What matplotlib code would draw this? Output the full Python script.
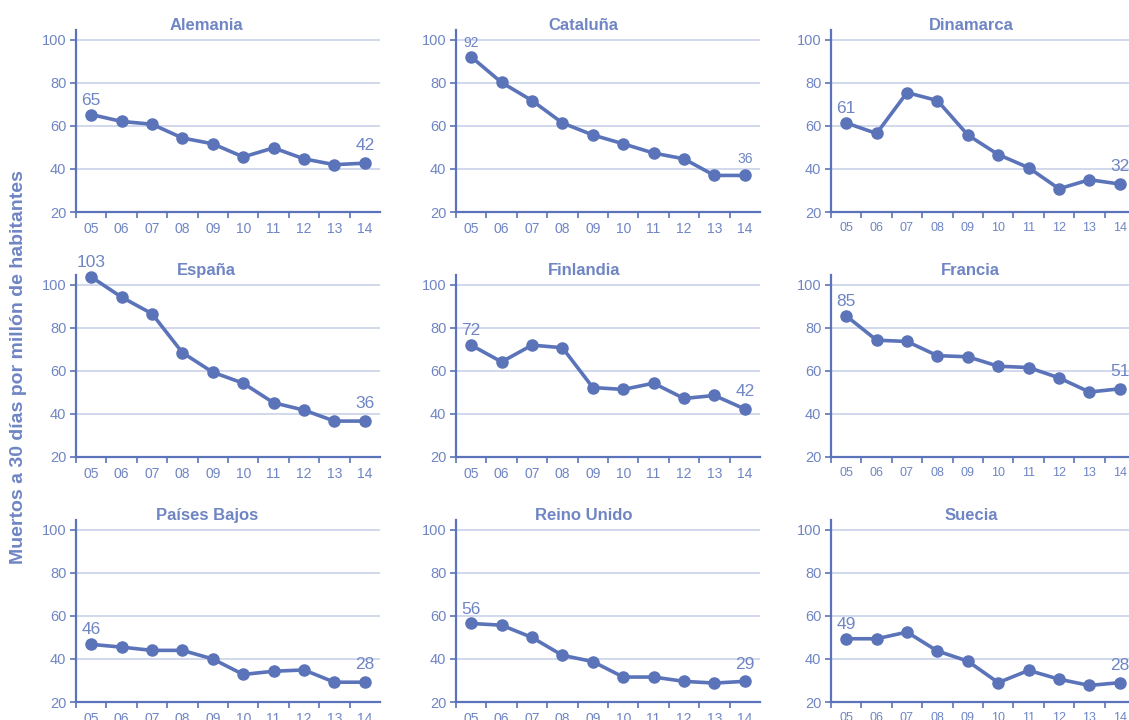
import matplotlib.pyplot as plt
import numpy as np

plt.rcParams['font.family'] = ['Liberation Sans', 'DejaVu Sans']

# Data: deaths at 30 days per million inhabitants, 2005-2014
years = ["05", "06", "07", "08", "09", "10", "11", "12", "13", "14"]
countries = ["Alemania", "Cataluña", "Dinamarca",
             "España", "Finlandia", "Francia",
             "Países Bajos", "Reino Unido", "Suecia"]

alemania = [65.3, 62.1, 60.8, 54.4, 51.7, 45.6, 49.8, 44.7, 42.0, 42.7]
cataluna = [92.1, 80.2, 71.8, 61.4, 55.8, 51.7, 47.4, 44.7, 37.0, 37.0]
dinamarca = [61.4, 56.5, 75.5, 71.8, 55.8, 46.7, 40.6, 30.8, 35.0, 33.0]
espana = [103.7, 94.3, 86.6, 68.5, 59.4, 54.3, 45.2, 41.8, 36.7, 36.7]
finlandia = [72.0, 64.2, 72.0, 70.8, 52.3, 51.4, 54.3, 47.2, 48.6, 42.3]
francia = [85.6, 74.3, 73.7, 67.1, 66.6, 62.2, 61.6, 56.8, 50.2, 51.7]
paises_bajos = [46.8, 45.5, 44.0, 44.0, 40.0, 32.8, 34.3, 34.9, 29.2, 29.2]
reino_unido = [56.5, 55.7, 50.0, 41.7, 38.8, 31.6, 31.6, 29.6, 28.8, 29.6]
suecia = [49.4, 49.4, 52.5, 43.7, 39.0, 29.0, 34.7, 30.6, 27.7, 29.0]

series = [alemania, cataluna, dinamarca, espana, finlandia, francia,
          paises_bajos, reino_unido, suecia]

# Labels shown on first and last points
first_labels = ["65", "92", "61", "103", "72", "85", "46", "56", "49"]
last_labels = ["42", "36", "32", "36", "42", "51", "28", "29", "28"]
label_sizes = [12.5, 10, 12.5, 12.5, 12.5, 12.5, 12.5, 12.5, 12.5]

line_color = "#5B73B8"
text_color = "#6F85C4"
grid_color = "#C9D2EA"

fig = plt.figure(figsize=(11.29, 7.2), dpi=100)

col_left = [76 / 1129, 456 / 1129, 831 / 1129]
row_bottom = [1 - 212 / 720, 1 - 457 / 720, 1 - 702 / 720]
ax_w = 304 / 1129
ax_h = 182 / 720
title_x = [0.43, 0.42, 0.46]

x = np.arange(len(years))
for i, name in enumerate(countries):
    r, c = divmod(i, 3)
    ax = fig.add_axes([col_left[c], row_bottom[r], ax_w, ax_h])
    y = series[i]
    ax.plot(x, y, color=line_color, linewidth=2.6, marker='o', markersize=8,
            zorder=3, clip_on=False)

    ax.set_xlim(-0.5, 9.5)
    ax.set_ylim(20, 104.6)
    ax.set_yticks([20, 40, 60, 80, 100])
    ax.yaxis.grid(True, color=grid_color, linewidth=1.2)
    ax.set_axisbelow(True)

    # Excel-style category axis: tick marks between categories
    ax.set_xticks(np.arange(10) - 0.5)
    ax.set_xticklabels([])
    ax.set_xticks(x, minor=True)
    xsize = 9 if c == 2 else 10
    ax.set_xticklabels(years, minor=True, fontsize=xsize, color=text_color)
    ax.tick_params(axis='x', which='major', length=4, width=1.2, color=line_color)
    ax.tick_params(axis='x', which='minor', length=0, pad=7)
    ax.tick_params(axis='y', length=4, width=1.2, color=line_color,
                   labelsize=10.5, labelcolor=text_color, pad=3)

    for side in ['top', 'right']:
        ax.spines[side].set_visible(False)
    for side in ['left', 'bottom']:
        ax.spines[side].set_color(line_color)
        ax.spines[side].set_linewidth(1.6)

    ax.text(title_x[c], 0.985, name, transform=ax.transAxes, ha='center',
            va='bottom', fontsize=12, fontweight='bold', color=text_color)

    ax.annotate(first_labels[i], (x[0], y[0]), xytext=(0, 5),
                textcoords='offset points', ha='center', va='bottom',
                fontsize=label_sizes[i], color=text_color, annotation_clip=False)
    ax.annotate(last_labels[i], (x[-1], y[-1]), xytext=(0, 7),
                textcoords='offset points', ha='center', va='bottom',
                fontsize=label_sizes[i], color=text_color, annotation_clip=False)

fig.text(0.016, 0.49, "Muertos a 30 días por millón de habitantes", rotation=90,
         ha='center', va='center', fontsize=14, fontweight='bold',
         color=text_color)

fig.savefig("out.png", dpi=100)
